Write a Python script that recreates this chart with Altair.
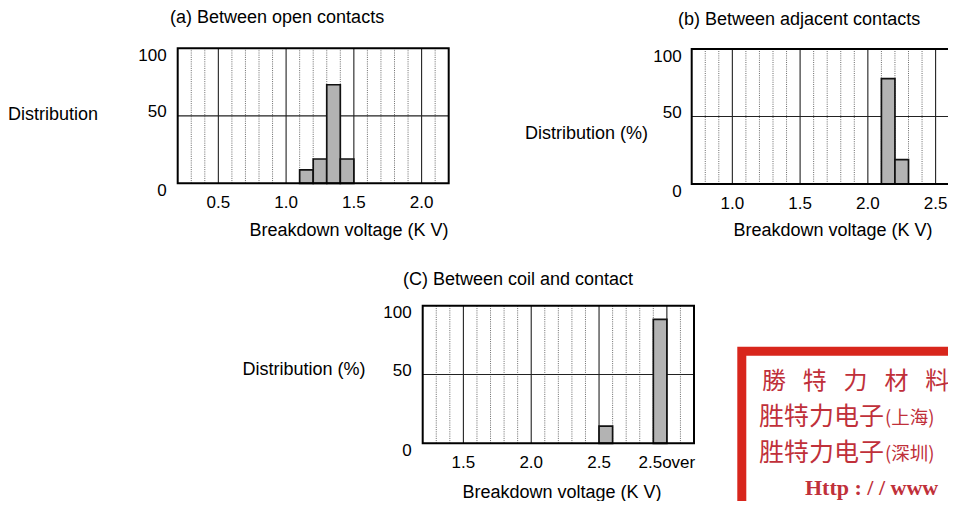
import altair as alt
import pandas as pd

FONT = "Liberation Sans"
FS = 18      # titles
LFS = 17     # tick labels
W, H = 940, 493

# ---------------- data ----------------
# (a) Between open contacts
a_bin_start = [1.1, 1.2, 1.3, 1.4]
a_bin_end = [1.2, 1.3, 1.4, 1.5]
a_values = [10, 18, 73, 18]
a_domain = [0.2, 2.2]
a_ticks = [0.5, 1.0, 1.5, 2.0]
a_tick_labels = ["0.5", "1.0", "1.5", "2.0"]

# (b) Between adjacent contacts
b_bin_start = [2.1, 2.2]
b_bin_end = [2.2, 2.3]
b_values = [78, 18]
b_domain = [0.7, 2.7]
b_ticks = [1.0, 1.5, 2.0, 2.5]
b_tick_labels = ["1.0", "1.5", "2.0", "2.5"]

# (C) Between coil and contact
c_bin_start = [2.5, 2.9]
c_bin_end = [2.6, 3.0]
c_values = [12.5, 90]
c_domain = [1.2, 3.2]
c_ticks = [1.5, 2.0, 2.5, 3.0]
c_tick_labels = ["1.5", "2.0", "2.5", "2.5over"]

y_ticks = [0, 50, 100]
y_tick_labels = ["0", "50", "100"]

titles = ["(a) Between open contacts", "(b) Between adjacent contacts",
          "(C) Between coil and contact"]
y_titles = ["Distribution", "Distribution (%)", "Distribution (%)"]
x_title = "Breakdown voltage (K V)"

stamp_lines = ["勝\u2002\u2009特\u2002\u2009力\u2002\u2009材\u2002\u2009料",
               "胜特力电子", "(上海)", "胜特力电子", "(深圳)",
               "Http : / / www"]


def panel(bs, be, vals, domain, ticks, tick_labels, xrange, yrange, pad_y):
    xs = alt.Scale(domain=domain, range=xrange, nice=False, zero=False)
    ys = alt.Scale(domain=[0, 100], range=yrange, nice=False, zero=False)
    n = round((domain[1] - domain[0]) * 10)
    pts = [round(domain[0] + i / 10, 1) for i in range(1, n)]
    minor = [p for p in pts if round(p * 10) % 5 != 0]
    major = [p for p in pts if round(p * 10) % 5 == 0]

    minor_df = pd.DataFrame({"v": minor, "lo": 0, "hi": 100})
    major_df = pd.DataFrame({"v": major, "lo": 0, "hi": 100})
    hline_df = pd.DataFrame({"y": [50], "x0": [domain[0]], "x1": [domain[1]]})
    frame_df = pd.DataFrame({"x0": [domain[0]], "x1": [domain[1]], "lo": [0], "hi": [100]})
    bars_df = pd.DataFrame({"s": bs, "e": be, "v": vals, "zero": 0})
    xlab_df = pd.DataFrame({"v": ticks, "t": tick_labels, "zero": 0})
    ylab_df = pd.DataFrame({"v": y_ticks, "t": y_tick_labels, "x0": domain[0]})
    ylab_end = ylab_df[ylab_df["v"] != 50]
    ylab_mid = ylab_df[ylab_df["v"] == 50]

    X = lambda f: alt.X(f, scale=xs, axis=None)
    Y = lambda f: alt.Y(f, scale=ys, axis=None)

    minor_l = alt.Chart(minor_df).mark_rule(color="#6a6a6a", strokeWidth=1, strokeDash=[1, 1.2]).encode(
        x=X("v:Q"), y=Y("lo:Q"), y2="hi:Q")
    major_l = alt.Chart(major_df).mark_rule(color="#222222", strokeWidth=1.1).encode(
        x=X("v:Q"), y=Y("lo:Q"), y2="hi:Q")
    hline = alt.Chart(hline_df).mark_rule(color="#222222", strokeWidth=1.2).encode(
        y=Y("y:Q"), x=X("x0:Q"), x2="x1:Q")
    bars = alt.Chart(bars_df).mark_rect(fill="#b3b3b3", stroke="#111111", strokeWidth=1.7).encode(
        x=X("s:Q"), x2="e:Q", y=Y("v:Q"), y2="zero:Q")
    frame = alt.Chart(frame_df).mark_rect(fill="white", fillOpacity=0, stroke="black", strokeWidth=2).encode(
        x=X("x0:Q"), x2="x1:Q", y=Y("lo:Q"), y2="hi:Q")
    xlab = alt.Chart(xlab_df).mark_text(align="center", baseline="middle", dy=19.5, font=FONT,
                                        fontSize=LFS, color="black").encode(
        x=X("v:Q"), y=Y("zero:Q"), text="t:N")
    ylab1 = alt.Chart(ylab_end).mark_text(align="right", baseline="middle", dx=-pad_y, dy=7.5,
                                          font=FONT, fontSize=LFS, color="black").encode(
        x=X("x0:Q"), y=Y("v:Q"), text="t:N")
    ylab2 = alt.Chart(ylab_mid).mark_text(align="right", baseline="middle", dx=-pad_y, dy=-4,
                                          font=FONT, fontSize=LFS, color="black").encode(
        x=X("x0:Q"), y=Y("v:Q"), text="t:N")
    return alt.layer(minor_l, major_l, hline, bars, frame, xlab, ylab1, ylab2)


pa = panel(a_bin_start, a_bin_end, a_values, a_domain, a_ticks, a_tick_labels,
           [169.7, 440.7], [175.3, 40.3], 11)
pb = panel(b_bin_start, b_bin_end, b_values, b_domain, b_ticks, b_tick_labels,
           [683.7, 954.7], [176, 41], 10)
pc = panel(c_bin_start, c_bin_end, c_values, c_domain, c_ticks, c_tick_labels,
           [414.7, 686], [435.3, 297.7], 11)

one = pd.DataFrame({"k": [0]})


def text(s, x, y, align="left", size=FS, font=FONT, color="black", weight="normal"):
    return alt.Chart(one).mark_text(align=align, baseline="middle", font=font, fontSize=size,
                                    color=color, fontWeight=weight).encode(
        x=alt.value(x), y=alt.value(y), text=alt.value(s))


texts = [
    text(titles[0], 162, 10),
    text(titles[1], 670, 12),
    text(titles[2], 395, 272),
    text(y_titles[0], 0, 107),
    text(y_titles[1], 517, 126),
    text(y_titles[2], 234.5, 362),
    text(x_title, 341, 223, align="center"),
    text(x_title, 825, 223, align="center"),
    text(x_title, 554, 485, align="center"),
]

# stamp in the lower right corner
stamp_box = alt.Chart(one).mark_rect(fill="white", stroke="#d8261c", strokeWidth=9).encode(
    x=alt.value(733.8), x2=alt.value(980), y=alt.value(343.2), y2=alt.value(540))
RED = "#c0303a"
CJK = "Noto Sans CJK TC"
stamp = [
    stamp_box,
    text(stamp_lines[0], 754, 374, size=24, font=CJK, color=RED),
    text(stamp_lines[1], 751, 409, size=25, font=CJK, color=RED),
    text(stamp_lines[2], 877, 410, size=18.5, font=CJK, color=RED),
    text(stamp_lines[3], 751, 445, size=25, font=CJK, color=RED),
    text(stamp_lines[4], 877, 446, size=18.5, font=CJK, color=RED),
    text(stamp_lines[5], 797, 480, size=22, font="Liberation Serif", color=RED, weight="bold"),
]

chart = alt.layer(pa, pb, pc, *texts, *stamp).resolve_scale(
    x="independent", y="independent"
).properties(
    width=W, height=H, padding=0, autosize=alt.AutoSizeParams(type="none")
).configure_view(stroke=None)

chart.save("out.html", embed_options={"renderer": "svg", "actions": False})
